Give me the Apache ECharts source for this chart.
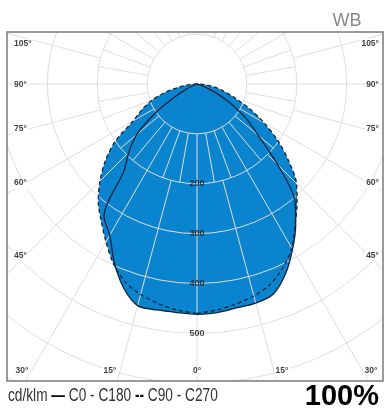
<!DOCTYPE html>
<html><head><meta charset="utf-8">
<script src="https://cdn.jsdelivr.net/npm/echarts@6/dist/echarts.min.js"></script>
<style>html,body{margin:0;padding:0;background:#fff}#c{width:385px;height:410px}</style>
</head><body><div id="c"></div>
<script>
// gamma angles (deg) from nadir
const gammaDeg = [0,5,10,15,20,25,30,35,40,45,50,55,60,65,70,75,80,85,90];
// C0 (right) and C180 (left) half-planes, cd/klm
const c0   = [462,460,456,455,448,420,383,345,305,228,160,120,78,42,15,5,0,0,0];
const c180 = [462,460,460,460,433,393,350,325,228,193,158,103,50,22,8,3,0,0,0];
// C90 (right) and C270 (left)
const c90  = [460,455,448,440,428,407,380,343,312,282,240,198,155,115,80,55,36,17,0];
const c270 = [460,455,447,437,422,397,365,335,308,275,240,200,147,122,97,68,38,18,0];
// radius tick labels
const radiusTicks = [200,300,400,500];
// radial grid directions (deg): fine spokes in the 100-200 ring, coarse spokes beyond
const innerSpokes = [0,10,20,30,40,50,60,70,80,90,100,110,120,130,140,150,160,170,180,190,200,210,220,230,240,250,260,270,280,290,300,310,320,330,340,350];
const outerSpokes = [0,15,30,45,60,75,90,105,120,135,150,165,180,195,210,225,240,255,270,285,300,315,330,345];
// angle tick labels on the frame
const sideLabels = ['105°','90°','75°','60°','45°'];
const bottomLabels = ['30°','15°','0°','15°','30°'];

function curve(right, left){
  const pts = [];
  for (let i=0;i<gammaDeg.length;i++) pts.push([right[i], gammaDeg[i]]);
  for (let i=gammaDeg.length-1;i>=0;i--) pts.push([left[i], 360-gammaDeg[i]]);
  return pts;
}
const envR = c0.map((v,i)=>Math.max(v,c90[i]));
const envL = c180.map((v,i)=>Math.max(v,c270[i]));

const W=385,H=410, bx0=7, by0=32, bx1=383, by1=381;
const gridCol = '#dedede';
const lineCol = '#14233a';
const labFont = 'bold 8.5px "Liberation Sans", "DejaVu Sans", sans-serif';

const sideY = [44,85,129,183,256];
const bottomX = [22,110,197,282,371];
const graphic = [
  {type:'rect', z:100, shape:{x:0,y:0,width:W,height:by0}, style:{fill:'#fff'}},
  {type:'rect', z:100, shape:{x:0,y:by1,width:W,height:H-by1}, style:{fill:'#fff'}},
  {type:'rect', z:100, shape:{x:0,y:0,width:bx0,height:H}, style:{fill:'#fff'}},
  {type:'rect', z:100, shape:{x:bx1,y:0,width:W-bx1,height:H}, style:{fill:'#fff'}},
  {type:'rect', z:101, shape:{x:bx0,y:by0,width:bx1-bx0,height:by1-by0}, style:{fill:null, stroke:'#7a7a7a', lineWidth:1.5}},
  {type:'text', z:102, style:{text:'WB', x:347, y:21, align:'center', verticalAlign:'middle', textAlign:'center', textVerticalAlign:'middle', fill:'#888', font:'18px "Liberation Sans", sans-serif'}},
  {type:'text', z:102, style:{text:'100%', x:379, y:397, align:'right', verticalAlign:'middle', textAlign:'right', textVerticalAlign:'middle', fill:'#000', font:'900 29px "Liberation Sans", sans-serif'}},
  {type:'text', z:102, x:8, y:396, scaleX:0.76, style:{text:'cd/klm {b|—} C0 - C180 {b|--} C90 - C270', x:0, y:0, align:'left', verticalAlign:'middle', textAlign:'left', textVerticalAlign:'middle', fill:'#333', font:'18px "Liberation Sans", sans-serif',
    rich:{b:{fontWeight:'bold', fontSize:18, fontFamily:'Liberation Sans', fill:'#111'}}}}
];
sideLabels.forEach((t,i)=>{
  graphic.push({type:'text', z:102, style:{text:t, x:13, y:sideY[i], align:'left', verticalAlign:'middle', textAlign:'left', textVerticalAlign:'middle', fill:'#444', font:labFont, backgroundColor:'#fff', padding:[1,1]}});
  graphic.push({type:'text', z:102, style:{text:t, x:380, y:sideY[i], align:'right', verticalAlign:'middle', textAlign:'right', textVerticalAlign:'middle', fill:'#444', font:labFont, backgroundColor:'#fff', padding:[1,1]}});
});
bottomLabels.forEach((t,i)=>{
  graphic.push({type:'text', z:102, style:{text:t, x:bottomX[i], y:371, align:'center', verticalAlign:'middle', textAlign:'center', textVerticalAlign:'middle', fill:'#444', font:labFont, backgroundColor:'#fff', padding:[1,1]}});
});

function spokeSeries(angles, r0, r1){
  return {type:'custom', coordinateSystem:'polar', z:3, silent:true,
    data:angles.map(a=>[r1,a]),
    renderItem:function(params, api){
      const a = api.value(1);
      const p0 = api.coord([r0, a]);
      const p1 = api.coord([r1, a]);
      return {type:'line', shape:{x1:p0[0],y1:p0[1],x2:p1[0],y2:p1[1]}, style:{stroke:gridCol, lineWidth:1}};
    }};
}

const chart = echarts.init(document.getElementById('c'), null, {renderer:'canvas'});
chart.setOption({
  animation:false,
  polar:{center:[197,84], radius:399},
  angleAxis:{type:'value', min:0, max:360, interval:15, startAngle:270, clockwise:false, z:3,
    axisLine:{show:false}, axisTick:{show:false}, axisLabel:{show:false}, splitLine:{show:false}},
  radiusAxis:{type:'value', min:0, max:800, interval:100, z:3,
    axisLine:{show:false}, axisTick:{show:false}, axisLabel:{show:false},
    splitLine:{show:true, lineStyle:{color:gridCol, width:1}}},
  series:[
    {type:'line', coordinateSystem:'polar', z:1, data:curve(envR, envL), symbol:'none', smooth:0.3,
      lineStyle:{width:0}, areaStyle:{color:'#0a84cf', opacity:1}},
    spokeSeries(innerSpokes, 100, 200),
    spokeSeries(outerSpokes, 200, 800),
    {type:'line', coordinateSystem:'polar', z:4, data:curve(c90, c270), symbol:'none', smooth:0.3,
      lineStyle:{color:lineCol, width:1.3, type:[4,3]}},
    {type:'line', coordinateSystem:'polar', z:4, data:curve(c0, c180), symbol:'none', smooth:0.3,
      lineStyle:{color:lineCol, width:1.3}},
    {type:'scatter', coordinateSystem:'polar', z:5, symbolSize:0, data:radiusTicks.map(r=>[r,0]),
      label:{show:true, position:'inside', formatter:(p)=>String(p.value[0]), color:'#1a1a1a', fontSize:9, fontWeight:'bold', fontFamily:'Liberation Sans'}}
  ],
  graphic:graphic
});
</script></body></html>
